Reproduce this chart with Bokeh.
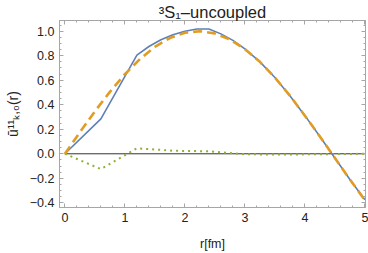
from bokeh.plotting import figure
from bokeh.models import Range1d, LinearAxis, FixedTicker, CustomJSTickFormatter
from bokeh.embed import file_html
from bokeh.resources import INLINE

# data
r_blue = [0.0, 0.6, 1.2, 1.4, 1.6, 1.8, 2.0, 2.2, 2.4, 2.6, 2.8, 3.0, 3.25, 3.5, 3.75, 4.0, 4.25, 4.5, 4.75, 5.0]
u_blue = [0.0, 0.285, 0.805, 0.875, 0.93, 0.97, 1.0, 1.018, 1.018, 0.978, 0.925, 0.855, 0.75, 0.622, 0.474, 0.311, 0.141, -0.035, -0.21, -0.375]

r_orange = [0.0, 0.25, 0.5, 0.75, 1.0, 1.25, 1.5, 1.75, 2.0, 2.25, 2.5, 2.75, 3.0, 3.25, 3.5, 3.75, 4.0, 4.25, 4.5, 4.75, 5.0]
u_orange = [0.0, 0.176, 0.346, 0.505, 0.649, 0.772, 0.872, 0.944, 0.987, 1.0, 0.981, 0.932, 0.854, 0.75, 0.622, 0.474, 0.311, 0.141, -0.035, -0.21, -0.378]

r_green = [0.0, 0.6, 1.2, 1.8, 2.4, 2.7, 3.0, 3.6, 4.2, 4.6, 5.0]
u_green = [0.0, -0.125, 0.045, 0.025, 0.02, 0.008, -0.004, -0.006, -0.004, -0.002, 0.0]

axis_x = [0.0, 5.0]
axis_y = [0.0, 0.0]

x_ticks = [0, 1, 2, 3, 4, 5]
y_ticks = [-0.4, -0.2, 0.0, 0.2, 0.4, 0.6, 0.8, 1.0]

title_text = "\u00b3S\u2081\u2013uncoupled"
y_label = "\u016b\u00b9\u00b9\u2096,\u2080(r)"
x_label = "r[fm]"

FONT = "Liberation Sans"
FRAME = "#a6a6a6"
LABEL = "#222222"

p = figure(width=368, height=253, output_backend="svg", toolbar_location=None,
           x_range=Range1d(-0.09, 5.01), y_range=Range1d(-0.438, 1.087),
           min_border_left=59, min_border_right=3, min_border_top=0, min_border_bottom=43)
p.xgrid.visible = False
p.ygrid.visible = False
p.outline_line_color = FRAME
p.background_fill_color = "white"
p.border_fill_color = "white"

p.title.text = title_text
p.title.text_font = FONT
p.title.text_font_size = "16.5px"
p.title.text_font_style = "normal"
p.title.text_color = LABEL
p.title.align = "center"
p.title.standoff = 0

def style(ax, labels=True, fmt=None):
    ax.axis_line_color = FRAME
    ax.major_tick_line_color = FRAME
    ax.minor_tick_line_color = FRAME
    ax.major_tick_in = 4
    ax.major_tick_out = 0
    ax.minor_tick_in = 2
    ax.minor_tick_out = 0
    ax.major_label_text_font = FONT
    ax.major_label_text_font_size = "12.5px"
    ax.major_label_text_color = LABEL
    ax.major_label_standoff = 5
    if fmt is not None:
        ax.formatter = fmt
    if not labels:
        ax.formatter = CustomJSTickFormatter(code="return ''")
        ax.major_label_standoff = 0
        ax.major_label_text_font_size = "1px"

xt = FixedTicker(ticks=x_ticks, minor_ticks=[i * 0.2 for i in range(-1, 26)])
yt = FixedTicker(ticks=y_ticks, minor_ticks=[i * 0.05 for i in range(-9, 22)])

p.xaxis.ticker = xt
p.yaxis.ticker = yt
style(p.xaxis[0], fmt=CustomJSTickFormatter(code="return tick.toFixed(0)"))
style(p.yaxis[0], fmt=CustomJSTickFormatter(
    code="var s = Math.abs(tick) < 1e-9 ? '0.0' : tick.toFixed(1); return s.replace('-', '\\u2212');"))
p.xaxis.axis_label = x_label
p.xaxis.axis_label_text_font = FONT
p.xaxis.axis_label_text_font_style = "normal"
p.xaxis.axis_label_text_font_size = "12.5px"
p.xaxis.axis_label_text_color = LABEL
p.xaxis.axis_label_standoff = 12

p.yaxis.axis_label = y_label
p.yaxis.axis_label_text_font = FONT
p.yaxis.axis_label_text_font_style = "normal"
p.yaxis.axis_label_text_font_size = "14px"
p.yaxis.axis_label_text_color = LABEL
p.yaxis.axis_label_standoff = 6

top = LinearAxis(ticker=xt)
style(top, labels=False)
p.add_layout(top, "above")
right = LinearAxis(ticker=yt)
style(right, labels=False)
p.add_layout(right, "right")

p.line(axis_x, axis_y, line_color="#333333", line_width=1)
p.line(r_green, u_green, line_color="#8FB032", line_width=2, line_dash="2 4")
p.line(r_blue, u_blue, line_color="#5E81B5", line_width=1.6)
p.line(r_orange, u_orange, line_color="#E19C24", line_width=2.6, line_dash="9 5")

open("out.html", "w").write(file_html(p, INLINE))
